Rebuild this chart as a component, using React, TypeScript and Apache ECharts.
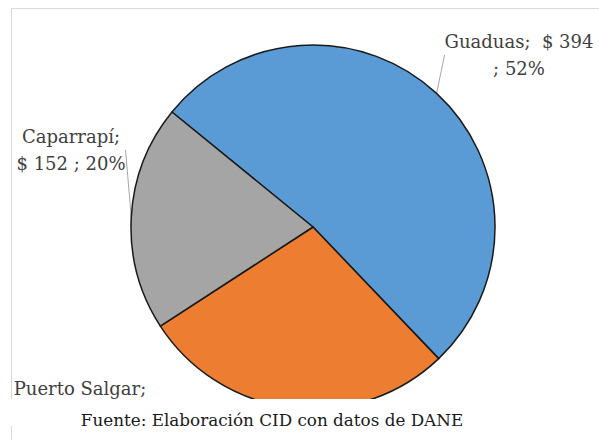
import React, { useEffect, useRef } from "react";
import * as echarts from "echarts";

// ---- data ----
const categories: string[] = ["Guaduas", "Puerto Salgar", "Caparrapí"];
const values: number[] = [394, 212, 152];
const footerText = "Fuente: Elaboración CID con datos de DANE";

// ---- styling / layout (not data) ----
const sliceColors = ["#5B9BD5", "#ED7D31", "#A5A5A5"];
// 0: "name;  $ v\n; p%"   1: "name;\n$ v ; p%"   2: only first line visible (rest cut by the footer)
const labelStyleKind = [0, 2, 1];
const labelAnchors: [number, number][] = [
  [519, 28],
  [80, 375],
  [71, 123],
];
const showLeader = [true, false, true];
const SERIF = "DejaVu Serif";

export default function App() {
  const ref = useRef<HTMLDivElement>(null);

  useEffect(() => {
    if (!ref.current) return;
    const chart = echarts.init(ref.current, undefined, { renderer: "svg" });

    chart.setOption({
      animation: false,
      backgroundColor: "#ffffff",
      graphic: [
        {
          type: "rect",
          z: -10,
          silent: true,
          shape: { x: 11.5, y: 8.5, width: 700, height: 600 },
          style: { fill: "none", stroke: "#d9d9d9", lineWidth: 1 },
        },
        {
          type: "rect",
          z: 100,
          silent: true,
          shape: { x: 0, y: 399, width: 599, height: 41 },
          style: { fill: "#ffffff" },
        },
        {
          type: "line",
          z: 101,
          silent: true,
          shape: { x1: 11.5, y1: 426, x2: 11.5, y2: 440 },
          style: { stroke: "#d9d9d9", lineWidth: 1 },
        },
        {
          type: "text",
          z: 102,
          silent: true,
          x: 272,
          y: 428,
          style: {
            text: footerText,
            fontFamily: SERIF,
            fontSize: 16.8,
            fill: "#1a1a1a",
            textAlign: "center",
            textVerticalAlign: "bottom",
          },
        },
      ],
      series: [
        {
          type: "pie",
          center: [313, 227],
          radius: 182,
          startAngle: 140.8,
          clockwise: true,
          avoidLabelOverlap: false,
          percentPrecision: 0,
          itemStyle: { borderColor: "#1a1a1a", borderWidth: 1.5 },
          emphasis: { disabled: true },
          label: {
            show: true,
            position: "outside",
            color: "#404040",
            fontFamily: SERIF,
            fontSize: 18,
            lineHeight: 27,
            align: "center",
            formatter: (p: any) => {
              const k = labelStyleKind[p.dataIndex];
              if (k === 0) return `${p.name};  $ ${p.value}\n; ${p.percent}%`;
              if (k === 1) return `${p.name};\n$ ${p.value} ; ${p.percent}%`;
              return `${p.name};`;
            },
          },
          labelLine: {
            show: true,
            length: 8,
            length2: 0,
            lineStyle: { color: "#a6a6a6", width: 1 },
          },
          labelLayout: (params: any) => {
            const [x, y] = labelAnchors[params.dataIndex];
            return { x, y, align: "center", verticalAlign: "top" };
          },
          data: categories.map((name, i) => ({
            name,
            value: values[i],
            itemStyle: { color: sliceColors[i] },
            labelLine: { show: showLeader[i] },
          })),
        },
      ],
    });

    return () => chart.dispose();
  }, []);

  return (
    <div
      ref={ref}
      style={{ position: "fixed", left: 0, top: 0, width: 599, height: 440 }}
    />
  );
}
